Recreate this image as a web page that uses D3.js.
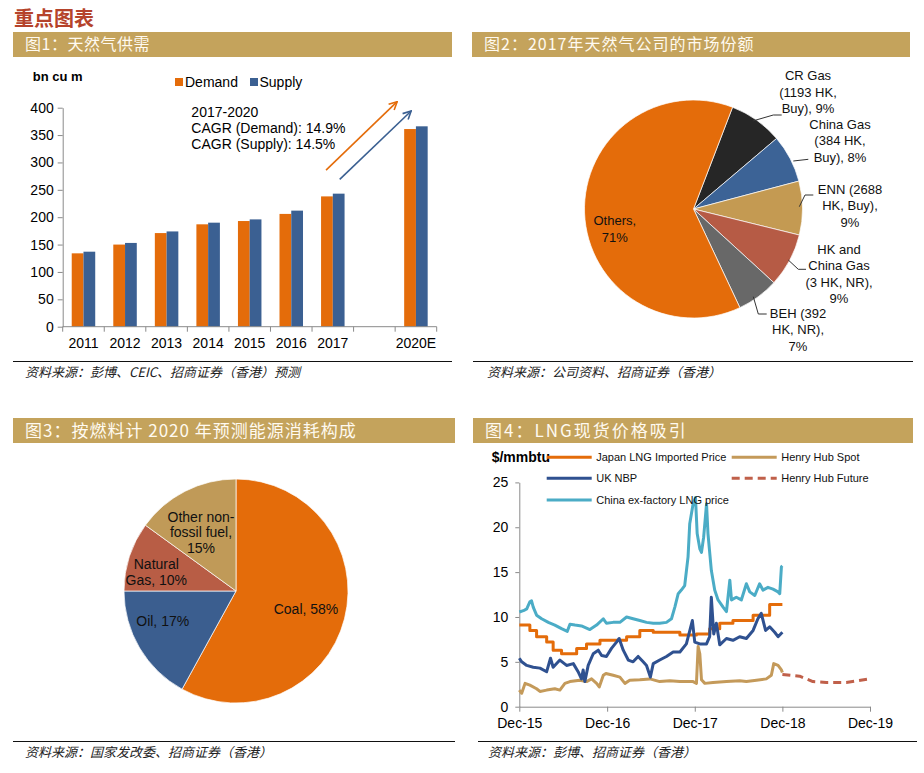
<!DOCTYPE html>
<html><head><meta charset="utf-8">
<script src="https://cdn.jsdelivr.net/npm/d3@7"></script>
<style>
body{margin:0;background:#fff;}
svg{display:block;}
text{font-family:"Liberation Sans",Arial,sans-serif;}
.cjk{font-family:"Noto Sans CJK SC",sans-serif;}
</style></head><body><svg id="c" width="924" height="773"></svg>
<script>
// ---------- DATA ----------
const categories = ["2011","2012","2013","2014","2015","2016","2017","","2020E"];
const demand = [134,150,171,187,193,206,238,null,361];
const supply = [137,153,174,190,196,212,243,null,366];
const barTicks = [0,50,100,150,200,250,300,350,400];

const companies = ["CR Gas","China Gas","ENN","HK and China Gas","BEH","Others"];
const companyShares = [9,8,9,9,7,71];
const companyLabels = [["CR Gas","(1193 HK,","Buy), 9%"],["China Gas","(384 HK,","Buy), 8%"],["ENN (2688","HK, Buy),","9%"],["HK and","China Gas","(3 HK, NR),","9%"],["BEH (392","HK, NR),","7%"],["Others,","71%"]];

const fuels = ["Coal","Oil","Natural Gas","Other non-fossil fuel"];
const fuelShares = [58,17,10,15];
const fuelLabels = [["Coal, 58%"],["Oil, 17%"],["Natural","Gas, 10%"],["Other non-","fossil fuel,","15%"]];

const priceTicks = [0,5,10,15,20,25];
const dateTicks = ["2015-12-01","2016-12-01","2017-12-01","2018-12-01","2019-12-01"];

const japanLng = [["2015-12-01",9.1],["2016-01-14",8.5],["2016-02-11",7.8],["2016-03-24",7.2],["2016-04-20",6.3],["2016-05-25",5.9],["2016-07-27",6.5],["2016-09-06",7.0],["2016-11-01",7.4],["2017-02-20",7.8],["2017-04-16",8.5],["2017-06-11",8.3],["2017-09-30",8.0],["2017-12-08",8.1],["2018-02-01",8.7],["2018-03-15",9.3],["2018-05-09",9.6],["2018-08-01",10.2],["2018-10-09",11.4],["2018-12-01",11.4]];

const henryHubSpot = [["2015-12-01",1.85],["2015-12-11",1.5],["2015-12-25",2.6],["2016-01-14",2.4],["2016-02-11",2.0],["2016-02-25",1.7],["2016-03-24",1.85],["2016-04-27",2.0],["2016-05-18",1.85],["2016-06-08",2.6],["2016-06-29",2.8],["2016-08-09",2.95],["2016-09-06",2.8],["2016-09-27",3.1],["2016-10-18",2.6],["2016-10-29",2.2],["2016-11-15",3.5],["2016-11-26",3.7],["2016-12-26",3.5],["2017-01-23",3.3],["2017-02-13",2.6],["2017-03-05",2.95],["2017-04-16",3.0],["2017-05-28",3.1],["2017-07-08",2.8],["2017-08-19",2.9],["2017-09-30",2.8],["2017-11-24",2.8],["2017-12-08",2.6],["2017-12-15",6.7],["2017-12-22",5.9],["2017-12-29",3.0],["2018-01-12",2.6],["2018-02-15",2.7],["2018-04-12",2.8],["2018-06-06",2.9],["2018-07-04",2.8],["2018-08-15",2.95],["2018-09-25",3.1],["2018-10-16",3.5],["2018-10-26",4.8],["2018-11-13",4.6],["2018-11-27",4.1],["2018-12-01",3.8]];

const ukNbp = [["2015-12-01",5.4],["2015-12-11",5.0],["2016-01-01",4.6],["2016-01-28",4.4],["2016-02-25",4.3],["2016-03-24",3.9],["2016-04-09",5.4],["2016-04-20",4.4],["2016-05-18",5.2],["2016-06-15",4.6],["2016-07-13",4.8],["2016-08-02",3.9],["2016-08-16",3.1],["2016-08-23",4.1],["2016-08-30",2.8],["2016-09-13",4.6],["2016-10-04",5.9],["2016-10-25",6.3],["2016-11-08",5.7],["2016-11-28",5.6],["2016-12-19",6.5],["2017-01-09",7.2],["2017-01-20",7.6],["2017-02-06",6.3],["2017-02-27",5.2],["2017-03-19",5.0],["2017-04-09",5.6],["2017-04-30",5.0],["2017-05-14",4.6],["2017-05-30",3.3],["2017-06-11",4.8],["2017-07-08",5.2],["2017-08-05",5.6],["2017-09-02",6.1],["2017-09-30",6.1],["2017-10-27",7.0],["2017-11-21",9.6],["2017-12-01",7.2],["2017-12-22",7.0],["2018-01-19",7.0],["2018-02-01",7.8],["2018-02-08",12.2],["2018-02-18",8.1],["2018-03-01",9.3],["2018-03-15",6.9],["2018-04-12",7.6],["2018-05-09",7.4],["2018-06-06",7.8],["2018-07-04",7.6],["2018-08-01",8.5],["2018-08-21",9.8],["2018-09-04",10.4],["2018-09-22",8.5],["2018-10-09",8.9],["2018-10-30",8.3],["2018-11-13",7.8],["2018-12-01",8.3]];

const henryHubFuture = [["2018-12-01",3.6],["2019-02-11",3.4],["2019-04-07",2.8],["2019-06-02",2.7],["2019-08-24",2.7],["2019-12-01",3.1]];

const chinaLng = [["2015-12-01",10.55],["2015-12-18",10.7],["2016-01-01",10.9],["2016-01-14",11.7],["2016-01-21",11.8],["2016-01-28",11.1],["2016-02-11",10.2],["2016-03-03",9.8],["2016-03-31",9.4],["2016-04-27",9.1],["2016-05-25",8.7],["2016-06-18",8.4],["2016-06-29",9.2],["2016-07-20",9.1],["2016-08-16",9.0],["2016-09-20",8.6],["2016-10-18",9.1],["2016-11-15",9.8],["2016-11-28",9.3],["2016-12-26",9.4],["2017-01-23",9.4],["2017-02-20",10.0],["2017-03-19",9.8],["2017-04-16",9.6],["2017-05-14",9.4],["2017-06-11",9.3],["2017-07-08",9.3],["2017-08-05",9.4],["2017-08-26",9.8],["2017-09-09",11.1],["2017-09-23",12.6],["2017-10-06",13.0],["2017-10-20",13.5],["2017-11-03",16.7],["2017-11-10",20.4],["2017-11-24",22.6],["2017-12-04",23.3],["2017-12-11",19.3],["2017-12-22",17.6],["2017-12-29",17.2],["2018-01-07",18.9],["2018-01-19",22.6],["2018-01-25",19.3],["2018-02-08",15.2],["2018-02-22",13.0],["2018-03-08",11.9],["2018-03-29",11.1],["2018-04-12",10.6],["2018-04-26",14.1],["2018-05-03",11.9],["2018-05-23",12.2],["2018-06-13",11.9],["2018-07-04",13.7],["2018-07-18",12.8],["2018-08-08",12.4],["2018-08-28",13.7],["2018-09-11",13.0],["2018-10-02",13.3],["2018-10-23",13.1],["2018-11-13",12.8],["2018-11-20",12.6],["2018-11-27",15.6],["2018-12-01",15.7]];

// ---------- STYLE ----------
const GOLD = "#c4a35c", ORANGE = "#e46c0a", BLUE = "#3b6092", AXIS = "#8a8a8a";
const svg = d3.select("#c");
svg.append("rect").attr("width",924).attr("height",773).attr("fill","#fff");

svg.append("text").attr("class","cjk").attr("x",14).attr("y",26).attr("font-size",20)
  .attr("font-weight",700).attr("fill","#b5432b").text("重点图表");

function titleBar(x,y,w,h,label,fs,ls){
  svg.append("rect").attr("x",x).attr("y",y).attr("width",w).attr("height",h).attr("fill",GOLD);
  svg.append("text").attr("class","cjk").attr("x",x+12).attr("y",y+h/2).attr("dy","0.36em")
    .attr("font-size",fs).attr("letter-spacing",ls).attr("fill","#fffaf0").text(label);
}
titleBar(13,32,439,25,"图1：天然气供需",16,0.5);
titleBar(472,32,438,25,"图2：2017年天然气公司的市场份额",16,1);
titleBar(13,418,442,25,"图3：按燃料计 2020 年预测能源消耗构成",17,1);
titleBar(473,418,440,25,"图4：LNG现货价格吸引",17,2);

function footer(x1,x2,y,label,tx){
  svg.append("line").attr("x1",x1).attr("x2",x2).attr("y1",y).attr("y2",y).attr("stroke","#111").attr("stroke-width",1.2);
  svg.append("text").attr("class","cjk").attr("x",tx).attr("y",y+15).attr("font-size",13)
    .attr("font-style","italic").attr("fill","#222").text(label);
}
footer(13,452,361.5,"资料来源：彭博、CEIC、招商证券（香港）预测",25);
footer(473,913,361.5,"资料来源：公司资料、招商证券（香港）",487);
footer(13,455,741.5,"资料来源：国家发改委、招商证券（香港）",25);
footer(478,917,741.5,"资料来源：彭博、招商证券（香港）",488);

// ---------- PANEL 1: bars ----------
{
  const g = svg.append("g");
  const xb = d3.scaleBand().domain(categories).range([62.7,436.7]);
  const y1 = d3.scaleLinear().domain([0,400]).range([326.7,107.7]);
  const bw = xb.bandwidth();
  const xs = d3.scaleBand().domain(["Demand","Supply"]).range([bw/2-11.75, bw/2+11.75]);
  const rows = categories.map((c,i)=>({c, d:demand[i], s:supply[i]})).filter(r=>r.d!=null);
  g.selectAll(".bd").data(rows).join("rect").attr("x",r=>xb(r.c)+xs("Demand")).attr("width",xs.bandwidth())
    .attr("y",r=>y1(r.d)).attr("height",r=>y1(0)-y1(r.d)).attr("fill",ORANGE);
  g.selectAll(".bs").data(rows).join("rect").attr("x",r=>xb(r.c)+xs("Supply")).attr("width",xs.bandwidth())
    .attr("y",r=>y1(r.s)).attr("height",r=>y1(0)-y1(r.s)).attr("fill",BLUE);

  const ya = g.append("g").attr("transform",`translate(${xb.range()[0]},0)`)
    .call(d3.axisLeft(y1).tickValues(barTicks).tickSize(5).tickSizeOuter(0).tickPadding(4));
  ya.select(".domain").attr("stroke",AXIS);
  ya.selectAll(".tick line").attr("stroke",AXIS);
  ya.selectAll("text").attr("font-size",14).attr("fill","#000").attr("font-family","Liberation Sans, Arial");

  const x0 = xb.range()[0], x1e = xb.range()[1];
  g.append("line").attr("x1",x0).attr("x2",x1e).attr("y1",y1(0)).attr("y2",y1(0)).attr("stroke",AXIS);
  const bounds = categories.map(c=>xb(c)).concat([x1e]);
  g.selectAll(".xt").data(bounds).join("line").attr("x1",d=>d).attr("x2",d=>d)
    .attr("y1",y1(0)).attr("y2",y1(0)+5).attr("stroke",AXIS);
  g.selectAll(".xl").data(categories.filter(c=>c!=="")).join("text")
    .attr("x",c=>xb(c)+bw/2).attr("y",y1(0)+21).attr("text-anchor","middle").attr("font-size",14).text(c=>c);

  g.append("text").attr("x",32.7).attr("y",81).attr("font-size",13).attr("font-weight",700).text("bn cu m");
  g.append("rect").attr("x",175).attr("y",78).attr("width",8).attr("height",8).attr("fill",ORANGE);
  g.append("text").attr("x",185).attr("y",86.5).attr("font-size",14).text("Demand");
  g.append("rect").attr("x",250).attr("y",78).attr("width",8).attr("height",8).attr("fill",BLUE);
  g.append("text").attr("x",259.5).attr("y",86.5).attr("font-size",14).text("Supply");

  const ann = ["2017-2020","CAGR (Demand): 14.9%","CAGR (Supply): 14.5%"];
  g.selectAll(".an").data(ann).join("text").attr("x",xb("2014")+4).attr("y",(d,i)=>y1(392)+5+i*15.8)
    .attr("font-size",14).text(d=>d);

  const defs = svg.append("defs");
  [["arO",ORANGE],["arB",BLUE]].forEach(([id,col])=>{
    defs.append("marker").attr("id",id).attr("viewBox","0 0 10 10").attr("refX",9).attr("refY",5)
      .attr("markerWidth",10).attr("markerHeight",10).attr("markerUnits","userSpaceOnUse").attr("orient","auto")
      .append("path").attr("d","M1,1 L9,5 L1,9").attr("fill","none").attr("stroke",col).attr("stroke-width",1.6);
  });
  g.append("line").attr("x1",xb("2017")+14).attr("y1",y1(286)).attr("x2",xb("2020E")+2).attr("y2",y1(411))
    .attr("stroke",ORANGE).attr("stroke-width",1.6).attr("marker-end","url(#arO)");
  g.append("line").attr("x1",xb("2017")+27.7).attr("y1",y1(269)).attr("x2",xb("2020E")+16).attr("y2",y1(394))
    .attr("stroke",BLUE).attr("stroke-width",1.6).attr("marker-end","url(#arB)");
}

// ---------- PANEL 2: company pie ----------
{
  const cx = 693.5, cy = 209, r = 109;
  const colors = ["#262626","#3c6396","#c49a52","#b65b45","#686868",ORANGE];
  const g = svg.append("g").attr("transform",`translate(${cx},${cy})`);
  const start = 21*Math.PI/180;
  const pie = d3.pie().sort(null).startAngle(start).endAngle(start+2*Math.PI);
  const arcs = pie(companyShares);
  const arc = d3.arc().innerRadius(0).outerRadius(r);
  g.selectAll("path").data(arcs).join("path").attr("d",arc).attr("fill",(d,i)=>colors[i])
    .attr("stroke","#fff").attr("stroke-width",0.7);

  const labelPos = [[114.5,-133.3],[146.5,-84.7],[156.5,-19.7],[145.5,40.3],[104.5,104.3],[-78.7,11.7]];
  const leaders = [
    [[59.2,-88],[79.8,-94],[88.2,-94]],
    [[99.8,-48],[114.8,-49.7]],
    [[105.8,-2.3],[111.5,-14],[119.8,-14]],
    [[94.8,51],[104.8,60.3],[112.5,60.3]],
    [[59.8,87.7],[64.8,105],[73.2,105]],
    null];
  const lh = 16.3;
  companyLabels.forEach((lines,i)=>{
    const [lx,ly] = labelPos[i];
    const t = g.append("text").attr("text-anchor","middle").attr("font-size",13).attr("fill","#111");
    lines.forEach((s,j)=>t.append("tspan").attr("x",lx).attr("y",ly+j*lh+4.6).text(s));
    if(leaders[i]) g.append("polyline").attr("points",leaders[i].map(p=>p.join(",")).join(" "))
      .attr("fill","none").attr("stroke","#333").attr("stroke-width",1);
  });
}

// ---------- PANEL 3: fuel pie ----------
{
  const cx = 236, cy = 591, r = 112;
  const colors = [ORANGE,"#3b5e8f","#b85d45","#c09a58"];
  const g = svg.append("g").attr("transform",`translate(${cx},${cy})`);
  const pie = d3.pie().sort(null);
  const arcs = pie(fuelShares);
  const arc = d3.arc().innerRadius(0).outerRadius(r);
  g.selectAll("path").data(arcs).join("path").attr("d",arc).attr("fill",(d,i)=>colors[i])
    .attr("stroke","#fff").attr("stroke-width",0.7);
  const labelPos = [[70,18.3],[-73.3,30],[-79.7,-19],[-35,-58.6]];
  const lh = 15.8;
  fuelLabels.forEach((lines,i)=>{
    const [lx,ly] = labelPos[i];
    const n = lines.length;
    const t = g.append("text").attr("text-anchor","middle").attr("font-size",14).attr("fill","#111");
    lines.forEach((s,j)=>t.append("tspan").attr("x",lx).attr("y",ly+(j-(n-1)/2)*lh+5).text(s));
  });
}

// ---------- PANEL 4: price lines ----------
{
  const g = svg.append("g");
  const parse = d3.timeParse("%Y-%m-%d");
  const xt = d3.scaleTime().domain([parse(dateTicks[0]), parse(dateTicks[dateTicks.length-1])]).range([519.3,870]);
  const yt = d3.scaleLinear().domain([0,25]).range([706.7,482.4]);

  const ya = g.append("g").attr("transform",`translate(${xt.range()[0]},0)`)
    .call(d3.axisLeft(yt).tickValues(priceTicks).tickSize(4).tickSizeOuter(0).tickPadding(7));
  ya.select(".domain").attr("stroke",AXIS);
  ya.selectAll(".tick line").attr("stroke",AXIS);
  ya.selectAll("text").attr("font-size",14).attr("fill","#000").attr("font-family","Liberation Sans, Arial");

  const xa = g.append("g").attr("transform",`translate(0,${yt(0)})`)
    .call(d3.axisBottom(xt).tickValues(dateTicks.map(parse)).tickFormat(d3.timeFormat("%b-%y")).tickSize(5).tickSizeOuter(0).tickPadding(6));
  xa.select(".domain").attr("stroke",AXIS);
  xa.selectAll(".tick line").attr("stroke",AXIS);
  xa.selectAll("text").attr("font-size",14).attr("fill","#000").attr("font-family","Liberation Sans, Arial");

  const line = d3.line().x(d=>xt(parse(d[0]))).y(d=>yt(d[1]));
  const step = d3.line().x(d=>xt(parse(d[0]))).y(d=>yt(d[1])).curve(d3.curveStepAfter);
  const series = [
    {data:henryHubSpot, col:"#c49a5a", gen:line},
    {data:japanLng, col:ORANGE, gen:step},
    {data:ukNbp, col:"#2f5190", gen:line},
    {data:chinaLng, col:"#4bacc6", gen:line},
    {data:henryHubFuture, col:"#c0604a", gen:line, dash:"8,5"}
  ];
  series.forEach(s=>{
    g.append("path").attr("d",s.gen(s.data)).attr("fill","none").attr("stroke",s.col)
      .attr("stroke-width",3).attr("stroke-linejoin","round").attr("stroke-dasharray",s.dash||null);
  });

  g.append("text").attr("x",491.7).attr("y",462).attr("font-size",14).attr("font-weight",700).text("$/mmbtu");
  const legend = [
    {x:546.7,y:457.3,col:ORANGE,label:"Japan LNG Imported Price"},
    {x:731.7,y:457.3,col:"#c49a5a",label:"Henry Hub Spot"},
    {x:546.7,y:478.3,col:"#2f5190",label:"UK NBP"},
    {x:731.7,y:478.3,col:"#c0604a",label:"Henry Hub Future",dash:"8,5"},
    {x:546.7,y:500,col:"#4bacc6",label:"China ex-factory LNG price"}
  ];
  legend.forEach(l=>{
    g.append("line").attr("x1",l.x).attr("x2",l.x+45).attr("y1",l.y).attr("y2",l.y).attr("stroke",l.col)
      .attr("stroke-width",3).attr("stroke-dasharray",l.dash||null);
    g.append("text").attr("x",l.x+49.5).attr("y",l.y+4).attr("font-size",11).attr("fill","#111").text(l.label);
  });
}
</script></body></html>
